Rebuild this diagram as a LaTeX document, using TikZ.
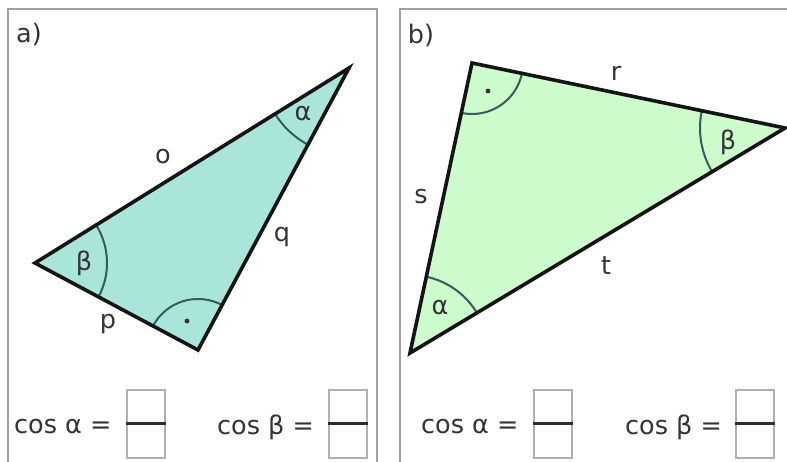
\documentclass[tikz,border=0pt]{standalone}
\usepackage{fontspec}
\setmainfont{DejaVu Sans}
\usetikzlibrary{angles}
\definecolor{txt}{HTML}{333333}
\definecolor{frm}{HTML}{A0A0A0}
\definecolor{fillA}{HTML}{A9E5DB}
\definecolor{fillB}{HTML}{CCFCCC}
\definecolor{arcc}{HTML}{2F5F58}
\definecolor{boxc}{HTML}{B0B0B0}
\begin{document}
\begin{tikzpicture}[x=1pt,y=1pt,
  frame/.style={draw=frm,line width=1.5pt},
  tri/.style={draw=black!92,line width=3.6pt,line join=miter},
  ang/.style={draw=arcc,line width=2pt},
  lbl/.style={text=txt,font=\fontsize{25.5}{30}\selectfont,inner sep=0pt},
  eqn/.style={text=txt,font=\fontsize{25.5}{30}\selectfont,inner sep=0pt,anchor=west},
  fbox/.style={draw=boxc,line width=1.3pt},
  fline/.style={draw=txt!90!black,line width=3pt}]
\useasboundingbox (0,0) rectangle (787,461);
\fill[white] (0,0) rectangle (787,461);
% frames
\draw[frame] (8,-10) -- (8,452) -- (377,452) -- (377,-10);
\draw[frame] (400,-10) -- (400,452) -- (800,452);
% panel a
\node[lbl] (la) at (29,426) {a)};
\coordinate (B) at (35,198);
\coordinate (T) at (349,393);
\coordinate (R) at (198,111);
\fill[fillA] (B) -- (T) -- (R) -- cycle;
\pic[ang,angle radius=72pt] {angle=R--B--T};
\pic[ang,angle radius=87pt] {angle=B--T--R};
\pic[ang,angle radius=51pt] {angle=T--R--B};
\draw[tri] (B) -- (T) -- (R) -- cycle;
\node[lbl] (so) at (163,304) {o};
\node[lbl] (sq) at (282,224) {q};
\node[lbl] (sp) at (108,137) {p};
\node[lbl] (ab) at (84,198) {β};
\node[lbl] (aa) at (303,347) {α};
\fill[txt] (187,140) circle (2.4pt);
% panel b
\node[lbl] (lb) at (421,426) {b)};
\coordinate (P) at (472,398);
\coordinate (Q) at (785,333);
\coordinate (L) at (410,108);
\fill[fillB] (P) -- (Q) -- (L) -- cycle;
\pic[ang,angle radius=51pt] {angle=L--P--Q};
\pic[ang,angle radius=85pt] {angle=P--Q--L};
\pic[ang,angle radius=78pt] {angle=Q--L--P};
\draw[tri] (P) -- (Q) -- (L) -- cycle;
\node[lbl] (sr) at (616,388) {r};
\node[lbl] (ss) at (421,264) {s};
\node[lbl] (st) at (606,195) {t};
\node[lbl] (bb) at (728,319) {β};
\node[lbl] (ba) at (440,153) {α};
\fill[txt] (488,370) circle (2.4pt);
% equations
\node[eqn] (e1) at (14,34) {cos α =};
\node[eqn] (e2) at (217,34) {cos β =};
\node[eqn] (e3) at (421,34) {cos α =};
\node[eqn] (e4) at (625,34) {cos β =};
\foreach \x in {127,329,534,736}{
  \draw[fbox] (\x,38) rectangle ++(38,33);
  \draw[fbox] (\x,3) rectangle ++(38,35);
  \draw[fline] (\x-1,38) -- ++(40,0);
}
\end{tikzpicture}
\end{document}
